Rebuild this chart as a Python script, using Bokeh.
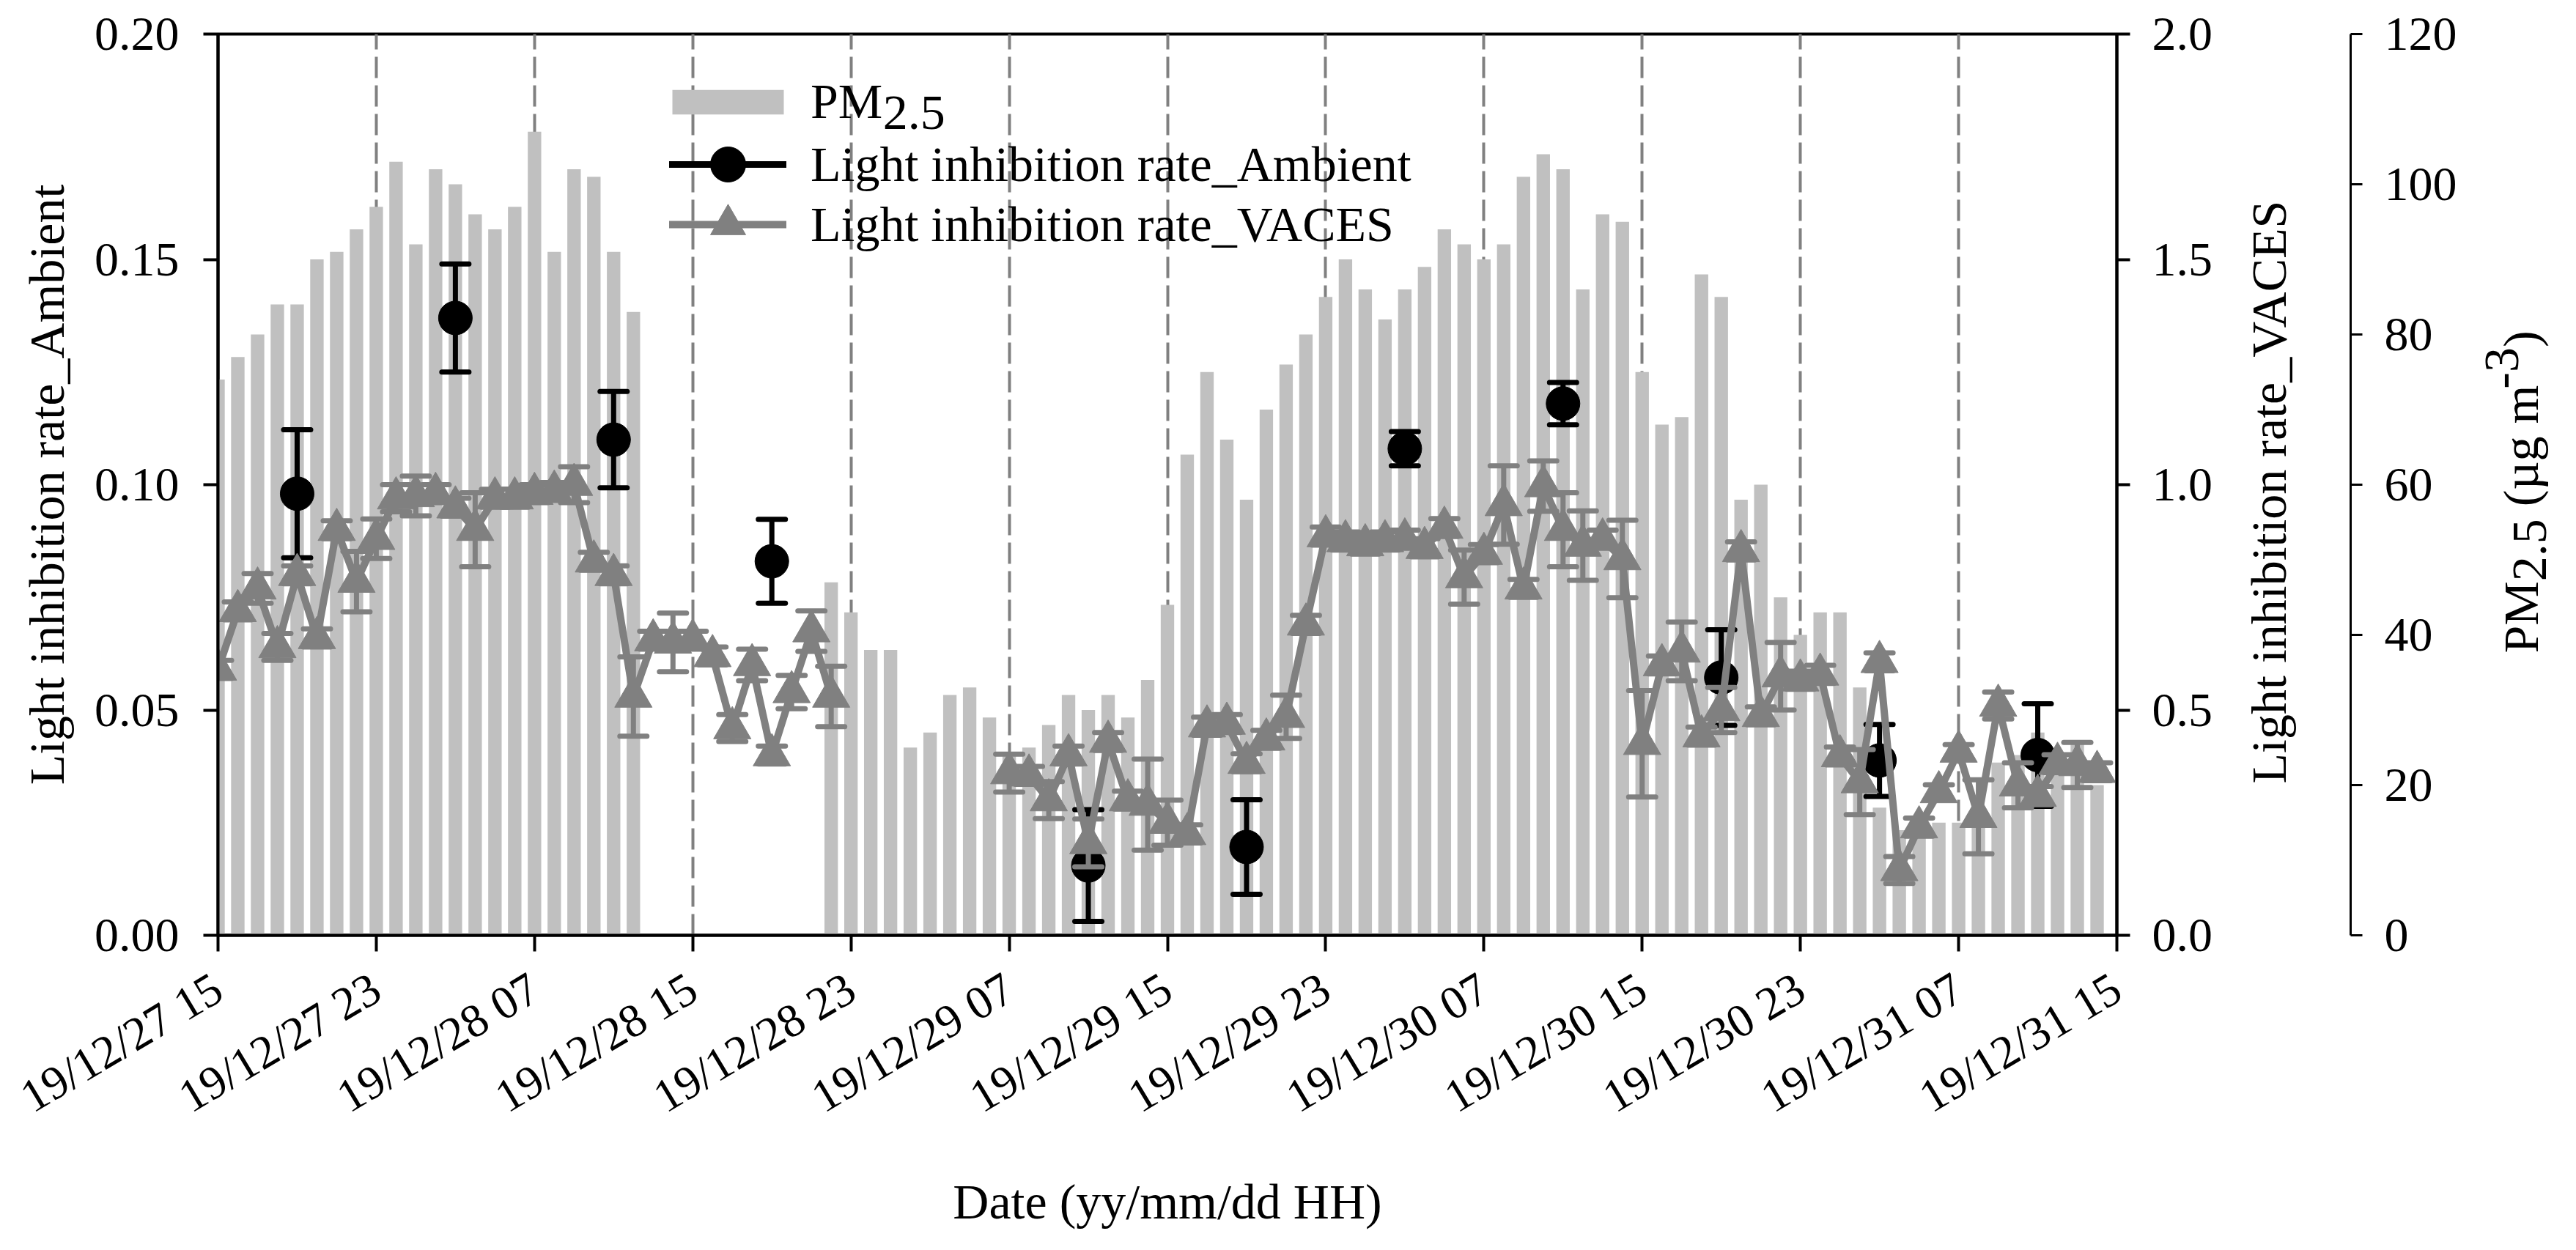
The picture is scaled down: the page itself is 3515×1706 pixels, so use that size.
import math
from bokeh.plotting import figure
from bokeh.layouts import row
from bokeh.models import (Range1d, LinearAxis, FixedTicker, Legend, LegendItem,
                          NumeralTickFormatter, Label)
from bokeh.core.properties import value
from bokeh.embed import file_html
from bokeh.resources import INLINE

NaN = float("nan")

# ---------------- data ----------------
tick_hours = [0, 8, 16, 24, 32, 40, 48, 56, 64, 72, 80, 88, 96]
tick_labels = ["19/12/27 15", "19/12/27 23", "19/12/28 07", "19/12/28 15",
               "19/12/28 23", "19/12/29 07", "19/12/29 15", "19/12/29 23",
               "19/12/30 07", "19/12/30 15", "19/12/30 23", "19/12/31 07",
               "19/12/31 15"]

hours = list(range(96))

pm25 = [74, 77, 80, 84, 84, 90, 91, 94, 97, 103,
        92, 102, 100, 96, 94, 97, 107, 91, 102, 101,
        91, 83, NaN, NaN, NaN, NaN, NaN, NaN, NaN, NaN,
        NaN, 47, 43, 38, 38, 25, 27, 32, 33, 29,
        24, 25, 28, 32, 30, 32, 29, 34, 44, 64,
        75, 66, 58, 70, 76, 80, 85, 90, 86, 82,
        86, 89, 94, 92, 90, 92, 101, 104, 102, 86,
        96, 95, 75, 68, 69, 88, 85, 58, 60, 45,
        40, 43, 43, 33, 17, 14, 14, 15, 15, 16,
        23, 24, 27, 22, 26, 20]

vaces = [0.59, 0.72, 0.77, 0.64, 0.80, 0.66, 0.90, 0.785, 0.88, 0.97,
         0.975, 0.98, 0.95, 0.90, 0.97, 0.97, 0.98, 0.985, 1.00, 0.83,
         0.80, 0.53, 0.655, 0.65, 0.655, 0.62, 0.46, 0.60, 0.40, 0.54,
         0.675, 0.53, NaN, NaN, NaN, NaN, NaN, NaN, NaN, NaN,
         0.36, 0.355, 0.30, 0.40, 0.205, 0.43, 0.30, 0.29, 0.25, 0.225,
         0.464, 0.47, 0.383, 0.435, 0.485, 0.69, 0.886, 0.875, 0.866, 0.875,
         0.879, 0.86, 0.905, 0.795, 0.847, 0.955, 0.77, 0.997, 0.90, 0.865,
         0.879, 0.835, 0.425, 0.60, 0.63, 0.442, 0.50, 0.853, 0.487, 0.575,
         0.566, 0.579, 0.398, 0.34, 0.607, 0.145, 0.24, 0.318, 0.408, 0.263,
         0.51, 0.333, 0.31, 0.381, 0.378, 0.363]

vaces_err = [0.02, 0.02, 0.033, 0.03, 0.02, 0.02, 0.02, 0.067, 0.044, 0.03,
             0.044, 0.02, 0.02, 0.082, 0.02, 0.02, 0.02, 0.02, 0.04, 0.02,
             0.02, 0.088, 0.02, 0.065, 0.02, 0.02, 0.03, 0.035, 0.02, 0.037,
             0.045, 0.067, NaN, NaN, NaN, NaN, NaN, NaN, NaN, NaN,
             0.042, 0.02, 0.041, 0.02, 0.053, 0.02, 0.02, 0.101, 0.05, 0.02,
             0.02, 0.02, 0.02, 0.02, 0.048, 0.02, 0.02, 0.02, 0.02, 0.02,
             0.02, 0.02, 0.02, 0.06, 0.02, 0.087, 0.02, 0.056, 0.082, 0.077,
             0.02, 0.086, 0.118, 0.02, 0.065, 0.02, 0.05, 0.02, 0.02, 0.075,
             0.02, 0.02, 0.02, 0.072, 0.02, 0.03, 0.02, 0.016, 0.015, 0.082,
             0.03, 0.05, 0.02, 0.02, 0.05, 0.02]

amb_hours = [4, 12, 20, 28, 44, 52, 60, 68, 76, 84, 92]
ambient = [0.098, 0.137, 0.110, 0.083, 0.0155, 0.0196, 0.108, 0.118,
           0.0572, 0.0388, 0.0400]
ambient_err = [0.0142, 0.012, 0.0107, 0.0093, 0.0124, 0.0105, 0.0038,
               0.0047, 0.0106, 0.008, 0.0114]

# ---------------- style ----------------
FONT = "Liberation Serif"
TICK_FS = "66px"
XTICK_FS = "64px"
TITLE_PX = 68
TITLE_FS = "%dpx" % TITLE_PX
BAR_C = "#c0c0c0"
GRAY = "#808080"

H = 1690
TOP, BOTTOM = 46, 414
FRAME_H = H - TOP - BOTTOM
WA, WB, WC = 3038, 319, 142

p = figure(width=WA, height=H, output_backend="svg", toolbar_location=None,
           x_range=Range1d(0, 96), y_range=Range1d(0, 0.2),
           min_border_left=297, min_border_right=150,
           min_border_top=TOP, min_border_bottom=BOTTOM)
p.extra_y_ranges = {"vaces": Range1d(0, 2.0), "pm": Range1d(0, 120)}
p.background_fill_color = "white"
p.border_fill_color = "white"
p.outline_line_color = "black"
p.outline_line_width = 4

# grid: dashed vertical lines at the 8-hour ticks
p.xgrid.ticker = FixedTicker(ticks=tick_hours[1:-1])
p.xgrid.grid_line_color = GRAY
p.xgrid.grid_line_width = 4
p.xgrid.grid_line_dash = "29 10"
p.ygrid.grid_line_color = None


def style_axis(ax):
    ax.axis_line_width = 4
    ax.axis_line_color = "black"
    ax.major_tick_line_width = 4
    ax.major_tick_line_color = "black"
    ax.major_tick_in = 0
    ax.minor_tick_line_color = None
    ax.major_label_text_font = FONT
    ax.major_label_text_font_size = TICK_FS
    ax.major_label_text_color = "black"
    ax.axis_label_text_font = FONT
    ax.axis_label_text_font_size = TITLE_FS
    ax.axis_label_text_font_style = "normal"
    ax.axis_label_text_color = "black"


# bottom axis
xa = p.xaxis[0]
style_axis(xa)
xa.ticker = FixedTicker(ticks=tick_hours)
xa.major_label_overrides = {h: lab for h, lab in zip(tick_hours, tick_labels)}
xa.major_label_orientation = 0.54
xa.major_label_text_font_size = XTICK_FS
xa.major_tick_out = 22
xa.major_label_standoff = 45
xa.axis_label = "Date (yy/mm/dd HH)"
xa.axis_label_standoff = 36

# left axis
ya = p.yaxis[0]
style_axis(ya)
ya.ticker = FixedTicker(ticks=[0, 0.05, 0.10, 0.15, 0.20])
ya.formatter = NumeralTickFormatter(format="0.00")
ya.major_tick_out = 20
ya.major_label_standoff = 33
ya.axis_label = "Light inhibition rate_Ambient"
ya.axis_label_standoff = 24

# right axis 1: VACES
va = LinearAxis(y_range_name="vaces")
style_axis(va)
va.ticker = FixedTicker(ticks=[0, 0.5, 1.0, 1.5, 2.0])
va.formatter = NumeralTickFormatter(format="0.0")
va.major_tick_out = 18
va.major_label_standoff = 30
p.add_layout(va, "right")

# ---------------- glyphs ----------------
bars = p.vbar(x=hours, top=pm25, width=0.68, y_range_name="pm",
              fill_color=BAR_C, line_color=None)

amb_lo = [v - e for v, e in zip(ambient, ambient_err)]
amb_hi = [v + e for v, e in zip(ambient, ambient_err)]
p.segment(x0=amb_hours, y0=amb_lo, x1=amb_hours, y1=amb_hi,
          line_color="black", line_width=7)
p.scatter(x=amb_hours + amb_hours, y=amb_lo + amb_hi, marker="dash",
          size=37, line_color="black", line_width=7, line_cap="round")
amb_line = p.line(x=amb_hours, y=[NaN] * len(amb_hours),
                  line_color="black", line_width=9, line_cap="round")
amb_pts = p.scatter(x=amb_hours, y=ambient, marker="circle", size=46,
                    fill_color="black", line_color="black")

v_lo = [v - e for v, e in zip(vaces, vaces_err)]
v_hi = [v + e for v, e in zip(vaces, vaces_err)]
p.segment(x0=hours, y0=v_lo, x1=hours, y1=v_hi, y_range_name="vaces",
          line_color=GRAY, line_width=7)
p.scatter(x=hours + hours, y=v_lo + v_hi, marker="dash", size=37,
          y_range_name="vaces", line_color=GRAY, line_width=7,
          line_cap="round")
v_line = p.line(x=hours, y=vaces, y_range_name="vaces",
                line_color=GRAY, line_width=10, line_cap="round",
                line_join="round")
v_pts = p.scatter(x=hours, y=vaces, marker="triangle", size=51,
                  y_range_name="vaces", fill_color=GRAY, line_color=GRAY)


def make_legend(label, renderers, loc, gw, gh, standoff):
    lg = Legend(items=[LegendItem(label=label, renderers=renderers)],
                location=loc)
    lg.border_line_color = None
    lg.background_fill_alpha = 0
    lg.padding = 0
    lg.margin = 0
    lg.glyph_width = gw
    lg.glyph_height = gh
    lg.label_standoff = standoff
    lg.label_text_font = FONT
    lg.label_text_font_size = TITLE_FS
    lg.label_text_color = "black"
    p.add_layout(lg)


make_legend("PM", [bars], (601, 1098), 190, 42, 18)
make_legend("Light inhibition rate_Ambient", [amb_line, amb_pts],
            (616, 992), 160, 120, 33)
make_legend("Light inhibition rate_VACES", [v_line, v_pts],
            (616, 910), 160, 120, 33)

# lowered "2.5" of the PM2.5 legend entry
p.add_layout(Label(x=809 + 1.445 * TITLE_PX, y=1137 - 14,
                   x_units="screen", y_units="screen", text="2.5",
                   text_align="left", text_baseline="middle",
                   text_font=FONT, text_font_size=TITLE_FS,
                   text_color="black"))

# ---------------- middle panel: VACES title + PM2.5 axis ----------------
pb = figure(width=WB, height=H, output_backend="svg", toolbar_location=None,
            x_range=Range1d(0, WB - 150), y_range=Range1d(0, 120),
            x_axis_type=None, y_axis_type=None,
            min_border_left=0, min_border_right=150,
            min_border_top=TOP, min_border_bottom=BOTTOM)
pb.outline_line_color = None
pb.background_fill_color = "white"
pb.border_fill_color = "white"

pa = LinearAxis()
style_axis(pa)
pa.axis_line_width = 3
pa.major_tick_line_width = 3
pa.ticker = FixedTicker(ticks=[0, 20, 40, 60, 80, 100, 120])
pa.formatter = NumeralTickFormatter(format="0")
pa.major_tick_out = 16
pa.major_label_standoff = 30
pb.add_layout(pa, "right")

pb.text(x=[57], y=[605 / FRAME_H * 120], text=["Light inhibition rate_VACES"],
        angle=math.pi / 2, text_align="center", text_baseline="alphabetic",
        text_font=value(FONT), text_font_size=value(TITLE_FS),
        text_color="black")

# ---------------- right panel: PM2.5 title ----------------
pc = figure(width=WC, height=H, output_backend="svg", toolbar_location=None,
            x_range=Range1d(0, WC), y_range=Range1d(0, FRAME_H),
            x_axis_type=None, y_axis_type=None,
            min_border_left=0, min_border_right=0,
            min_border_top=TOP, min_border_bottom=BOTTOM)
pc.outline_line_color = None
pc.background_fill_color = "white"
pc.border_fill_color = "white"

# "PM2.5 (ug m-3)" with lowered 2.5 and raised -3, reading bottom-to-top
pieces = [("PM", 1.445, 0), ("2.5", 1.25, 12), ("\u00a0(\u00b5g m", 2.611, 0),
          ("-3", 0.833, -26), (")", 0.333, 0)]
total = sum(w for _, w, _ in pieces) * TITLE_PX
pos = 605 - total / 2
px, py, pt = [], [], []
for txt, w, dx in pieces:
    px.append(82 + dx)
    py.append(pos)
    pt.append(txt)
    pos += w * TITLE_PX
pc.text(x=px, y=py, text=pt, angle=math.pi / 2, text_align="left",
        text_baseline="alphabetic", text_font=value(FONT),
        text_font_size=value(TITLE_FS), text_color="black")

layout = row(p, pb, pc, spacing=0)
open("out.html", "w").write(file_html(layout, INLINE))
